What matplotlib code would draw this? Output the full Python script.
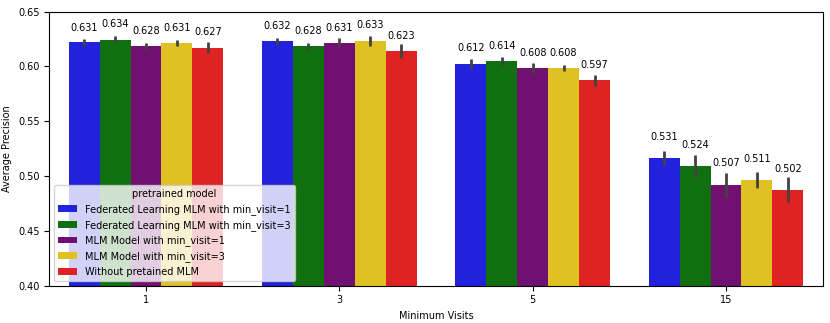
import matplotlib
matplotlib.use("Agg")
import matplotlib.pyplot as plt
import numpy as np

categories = ["1", "3", "5", "15"]
series_names = [
    "Federated Learning MLM with min_visit=1",
    "Federated Learning MLM with min_visit=3",
    "MLM Model with min_visit=1",
    "MLM Model with min_visit=3",
    "Without pretained MLM",
]
colors = ["#2222dd", "#107010", "#701070", "#dfc222", "#df2222"]

# bar heights (means) per series, across categories 1,3,5,15
heights = [
    [0.622, 0.623, 0.602, 0.5165],
    [0.6245, 0.6184, 0.6047, 0.5095],
    [0.619, 0.6217, 0.5984, 0.4922],
    [0.6214, 0.6235, 0.5984, 0.4964],
    [0.6172, 0.6139, 0.5874, 0.4876],
]
# error half-widths
errors = [
    [0.0030, 0.0030, 0.0044, 0.0068],
    [0.0033, 0.0030, 0.0036, 0.0100],
    [0.0026, 0.0043, 0.0046, 0.0110],
    [0.0025, 0.0044, 0.0029, 0.0076],
    [0.0050, 0.0064, 0.0049, 0.0114],
]
# annotation values
labels = [
    [0.631, 0.632, 0.612, 0.531],
    [0.634, 0.628, 0.614, 0.524],
    [0.628, 0.631, 0.608, 0.507],
    [0.631, 0.633, 0.608, 0.511],
    [0.627, 0.623, 0.597, 0.502],
]

fs = 7.0
fig = plt.figure(figsize=(8.3, 3.23), dpi=100)
ax = fig.add_axes([0.0594, 0.1155, 0.9318, 0.8483])

n = len(series_names)
group_w = 0.8
bw = group_w / n
x = np.arange(len(categories))
for i in range(n):
    pos = x - group_w / 2 + bw * (i + 0.5)
    ax.bar(pos, heights[i], width=bw, color=colors[i], label=series_names[i], zorder=2)
    ax.errorbar(pos, heights[i], yerr=errors[i], fmt="none", ecolor="#424242",
                elinewidth=2.0, capsize=0, zorder=3)
    for p, v in zip(pos, labels[i]):
        ax.text(p, v, f"{v:.3f}", ha="center", va="bottom", fontsize=fs, zorder=4)

ax.set_xlim(-0.5, len(categories) - 0.5)
ax.set_ylim(0.40, 0.65)
ax.set_xticks(x)
ax.set_xticklabels(categories)
ax.set_yticks([0.40, 0.45, 0.50, 0.55, 0.60, 0.65])
ax.tick_params(labelsize=fs)
ax.set_xlabel("Minimum Visits", fontsize=fs)
ax.set_ylabel("Average Precision", fontsize=fs)
ax.legend(title="pretrained model", loc="lower left", fontsize=fs, title_fontsize=fs)

fig.savefig("out.png", dpi=100)
